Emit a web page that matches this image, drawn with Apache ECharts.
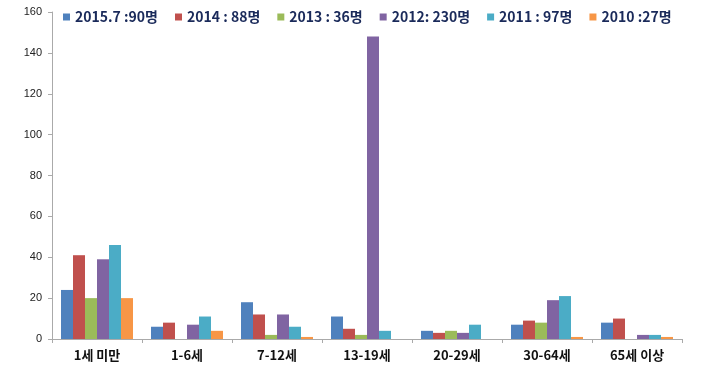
<!DOCTYPE html>
<html>
<head>
<meta charset="utf-8"/>
<script src="https://cdn.jsdelivr.net/npm/echarts@6/dist/echarts.min.js"></script>
<style>
  html, body { margin: 0; padding: 0; background: #fff; }
  #main { width: 703px; height: 372px; }
</style>
</head>
<body>
<div id="main"></div>
<script type="text/javascript">
    // 연령대 (x축)
    var ageGroups = ['1세 미만', '1-6세', '7-12세', '13-19세', '20-29세', '30-64세', '65세 이상'];
    // 연도별 값
    var y2015 = [24, 6, 18, 11, 4, 7, 8];
    var y2014 = [41, 8, 12, 5, 3, 9, 10];
    var y2013 = [20, 0, 2, 2, 4, 8, 0];
    var y2012 = [39, 7, 12, 148, 3, 19, 2];
    var y2011 = [46, 11, 6, 4, 7, 21, 2];
    var y2010 = [20, 4, 1, 0, 0, 1, 1];
    var seriesNames = ['2015.7 :90명', '2014 : 88명', '2013 : 36명', '2012: 230명', '2011 : 97명', '2010 :27명'];
    var colors = ['#4F81BD', '#C0504D', '#9BBB59', '#8064A2', '#4BACC6', '#F79646'];

    var allData = [y2015, y2014, y2013, y2012, y2011, y2010];
    var series = [];
    for (var i = 0; i < allData.length; i++) {
        series.push({
            name: seriesNames[i],
            type: 'bar',
            barGap: 0,
            barCategoryGap: '20%',
            data: allData[i]
        });
    }

    var myChart = echarts.init(document.getElementById('main'));
    myChart.setOption({
        animation: false,
        color: colors,
        legend: {
            top: 5,
            left: 58,
            itemWidth: 7,
            itemHeight: 7,
            itemGap: 17,
            icon: 'rect',
            textStyle: {
                fontFamily: 'Noto Sans CJK KR',
                fontSize: 14,
                fontWeight: 'bold',
                color: '#1a2a5a'
            },
            data: seriesNames
        },
        grid: {
            left: 52,
            right: 21,
            top: 12,
            bottom: 33
        },
        xAxis: {
            type: 'category',
            data: ageGroups,
            axisLine: { lineStyle: { color: '#aaaaaa' } },
            axisTick: { show: true, length: 4, lineStyle: { color: '#aaaaaa' } },
            axisLabel: {
                margin: 10,
                fontFamily: 'Noto Sans CJK KR',
                fontSize: 13,
                fontWeight: 'bold',
                color: '#111'
            }
        },
        yAxis: {
            type: 'value',
            min: 0,
            max: 160,
            interval: 20,
            splitLine: { show: false },
            axisLine: { show: true, lineStyle: { color: '#aaaaaa' } },
            axisTick: { show: true, inside: false, length: 4, lineStyle: { color: '#aaaaaa' } },
            axisLabel: {
                margin: 10,
                fontFamily: 'Liberation Sans',
                fontSize: 11,
                color: '#222'
            }
        },
        series: series
    });
</script>
</body>
</html>
